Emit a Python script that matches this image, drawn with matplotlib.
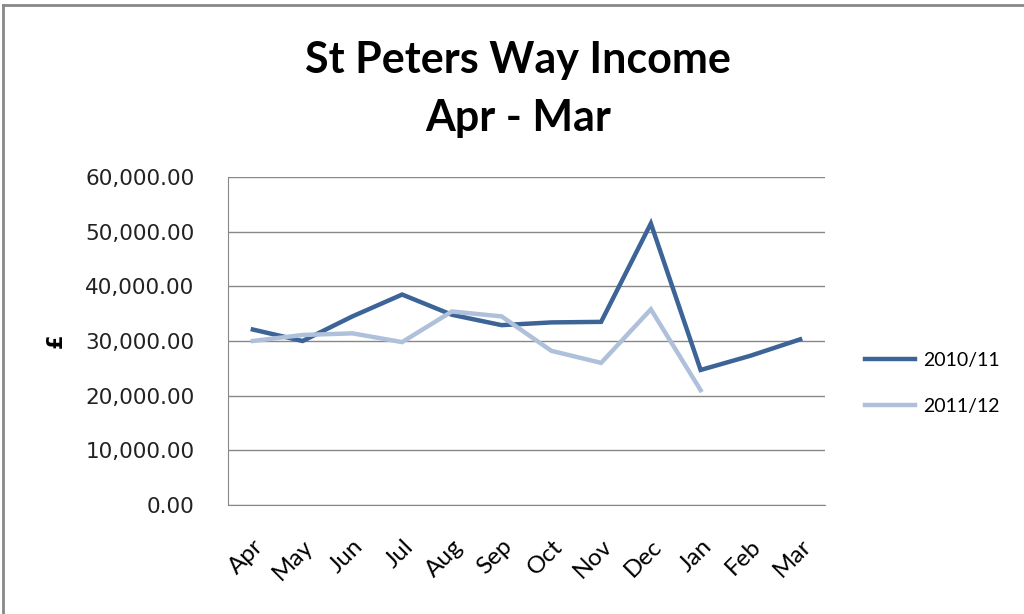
import matplotlib.pyplot as plt
from matplotlib.lines import Line2D
from matplotlib.ticker import FuncFormatter

# data
months = ["Apr", "May", "Jun", "Jul", "Aug", "Sep", "Oct", "Nov", "Dec", "Jan", "Feb", "Mar"]
income_2010 = [32100, 30000, 34500, 38500, 34800, 32900, 33400, 33500, 51500, 24700, 27300, 30300]
income_2011 = [30000, 31100, 31400, 29800, 35400, 34500, 28200, 26000, 35800, 21000]
yticks = [0, 10000, 20000, 30000, 40000, 50000, 60000]

fig = plt.figure(figsize=(10.24, 6.14), dpi=100)
ax = fig.add_axes([228 / 1024, 1 - 505 / 614, 597 / 1024, 328 / 614])

x = list(range(len(months)))
ax.plot(x, income_2010, color="#3C6496", lw=3.2, label="2010/11", solid_joinstyle="miter")
ax.plot(x[:len(income_2011)], income_2011, color="#AFC0DB", lw=3.2, label="2011/12",
        solid_joinstyle="miter")

ax.set_xlim(-0.5, len(months) - 0.5)
ax.set_ylim(0, 60000)
ax.set_yticks(yticks)
ax.yaxis.set_major_formatter(FuncFormatter(lambda v, p: f"{v:,.2f}"))
ax.set_xticks(x)
ax.set_xticklabels(months, rotation=45, ha="right", rotation_mode="anchor",
                   fontsize=17.5, family="Lato")
ax.tick_params(axis="y", length=0, pad=24, labelsize=15.5, colors="#222222")
ax.tick_params(axis="x", length=0, pad=22)

ax.grid(axis="y", color="#888888", lw=1)
ax.set_axisbelow(True)
for s in ["top", "right"]:
    ax.spines[s].set_visible(False)
for s in ["left", "bottom"]:
    ax.spines[s].set_color("#888888")

ax.set_ylabel("£", fontsize=15, fontweight="bold", labelpad=14)

fig.text(0.506, 0.903, "St Peters Way Income", ha="center", va="center",
         fontsize=31, fontweight="bold", family="Lato")
fig.text(0.506, 0.808, "Apr - Mar", ha="center", va="center",
         fontsize=31, fontweight="bold", family="Lato")

ax.legend(loc="center left", bbox_to_anchor=(1.037, 0.37), frameon=False,
          handlelength=2.6, handletextpad=0.4, labelspacing=1.5,
          prop={"family": "Lato", "size": 14})

# outer chart border
fig.add_artist(Line2D([3 / 1024, 3 / 1024], [0, 1 - 5 / 614], color="#888888", lw=2))
fig.add_artist(Line2D([3 / 1024, 1], [1 - 5 / 614, 1 - 5 / 614], color="#888888", lw=2))

fig.savefig("out.png", dpi=100)
